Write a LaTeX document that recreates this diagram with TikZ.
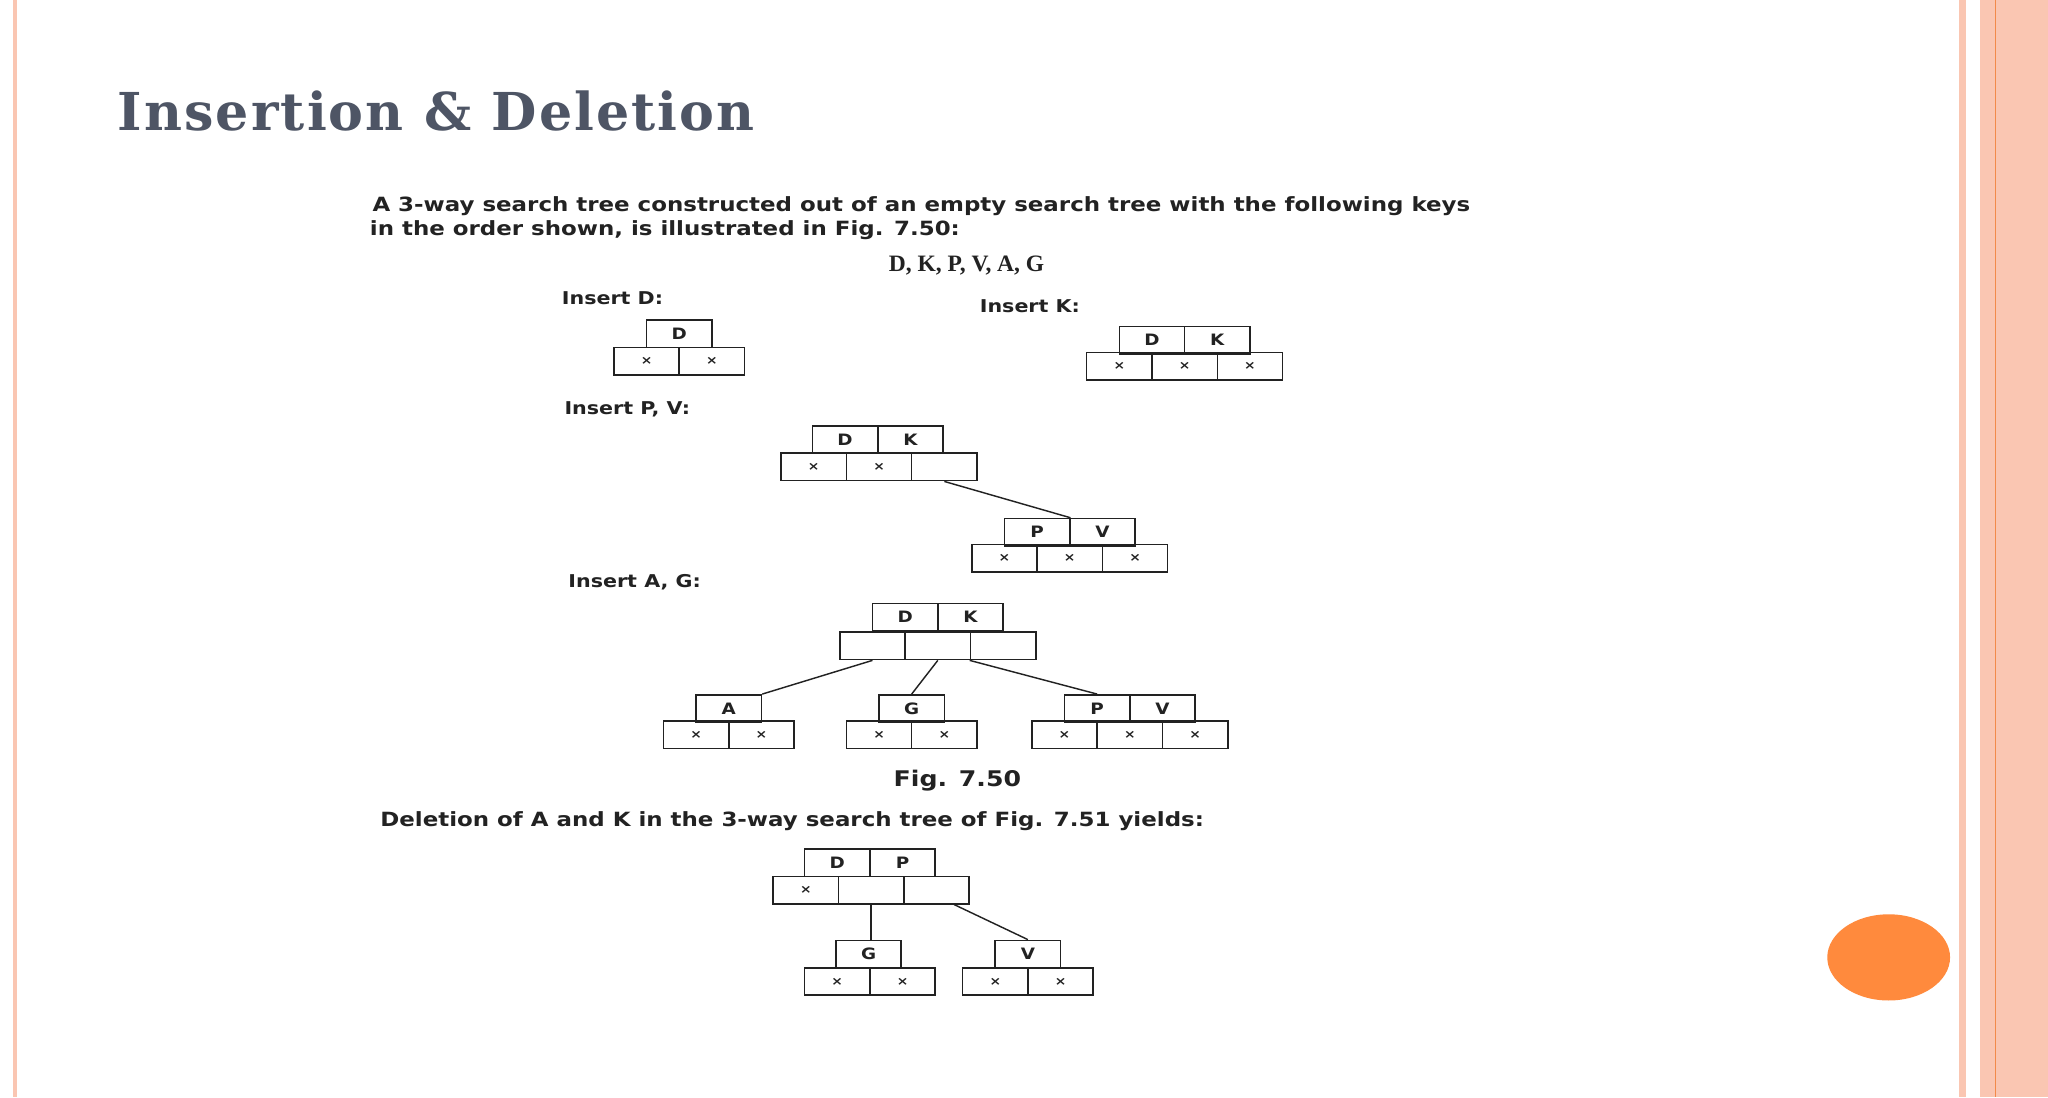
\documentclass[tikz,border=0pt]{standalone}
\usepackage{fontspec}
\usetikzlibrary{shapes.geometric}
\setmainfont{DejaVu Sans}
\newfontfamily\widefont[FakeStretch=1.17]{DejaVu Sans}
\newfontfamily\titlefont[LetterSpace=4]{DejaVu Serif}
\newfontfamily\scanserif{Liberation Serif}
\definecolor{peach}{HTML}{FAC6B2}
\definecolor{orangeline}{HTML}{F28A4A}
\definecolor{dot}{HTML}{FF8A3D}
\definecolor{titlecol}{HTML}{4E5565}
\definecolor{ink}{HTML}{222222}
\tikzset{
  cell/.style={draw=ink,line width=1.2pt,minimum width=50pt,minimum height=21pt,inner sep=0pt,font=\widefont\fontsize{12}{12}\selectfont\bfseries,text=ink},
  scan/.style={anchor=base west,inner sep=0pt,font=\widefont\fontsize{15}{18}\selectfont\bfseries,text=ink},
  lbl/.style={anchor=base west,inner sep=0pt,font=\widefont\fontsize{13.5}{14}\selectfont\bfseries,text=ink},
  link/.style={draw=ink,line width=1.1pt}
}
\newcommand\crow[4]{\foreach \t [count=\i] in {#4} {\node[cell] (#1\i) at ({#2+50*(\i-1)+25},{#3+10.5}) {\t};}}
\newcommand\xx{{\fontsize{9}{9}\selectfont ×}}
\begin{document}
\begin{tikzpicture}[x=1pt,y=-1pt]
\useasboundingbox (0,0) rectangle (1568,840);
\fill[white] (0,0) rectangle (1568,840);
% side decorations
\fill[peach] (10,0) rectangle (13,840);
\fill[peach] (1500,0) rectangle (1505,840);
\fill[peach] (1516,0) rectangle (1568,840);
\draw[orangeline,line width=1pt] (1528,0) -- (1528,840);
\node[fill=dot,ellipse,minimum width=94pt,minimum height=66pt,inner sep=0pt] (dotn) at (1446,733) {};
% title
\node[anchor=base west,inner sep=0pt,text=titlecol,font=\titlefont\fontsize{40}{40}\selectfont\bfseries] (title) at (90,100) {Insertion \& Deletion};
% texts
\node[scan] (t1) at (285,162) {A 3-way search tree constructed out of an empty search tree with the following keys};
\node[scan] (t2) at (283,180) {in the order shown, is illustrated in Fig. 7.50:};
\node[anchor=base,inner sep=0pt,font=\scanserif\fontsize{18}{18}\selectfont\bfseries,text=ink] (keys) at (740,208) {D, K, P, V, A, G};
\node[lbl] (l1) at (430,233) {Insert D:};
\node[lbl] (l2) at (750,239) {Insert K:};
\node[lbl] (l3) at (432,317) {Insert P, V:};
\node[lbl] (l4) at (435,450) {Insert A, G:};
\node[anchor=base,inner sep=0pt,font=\widefont\fontsize{16.5}{16}\selectfont\bfseries,text=ink] (fig) at (733,602) {Fig. 7.50};
\node[scan] (t3) at (291,633) {Deletion of A and K in the 3-way search tree of Fig. 7.51 yields:};
% Insert D
\crow{d-k}{495}{245}{D}
\crow{d-p}{470}{266}{\xx,\xx}
% Insert K
\crow{k-k}{857}{250}{D,K}
\crow{k-p}{832}{270}{\xx,\xx,\xx}
% Insert P,V
\crow{pv-k}{622}{326}{D,K}
\crow{pv-p}{598}{347}{\xx,\xx,{}}
\crow{pvc-k}{769}{397}{P,V}
\crow{pvc-p}{744}{417}{\xx,\xx,\xx}
\draw[link] (pv-p3.south) -- (pvc-k1.north east);
% Insert A,G
\crow{ag-k}{668}{462}{D,K}
\crow{ag-p}{643}{484}{{},{},{}}
\crow{a-k}{533}{532}{A}
\crow{a-p}{508}{552}{\xx,\xx}
\crow{g-k}{673}{532}{G}
\crow{g-p}{648}{552}{\xx,\xx}
\crow{v-k}{815}{532}{P,V}
\crow{v-p}{790}{552}{\xx,\xx,\xx}
\draw[link] (ag-p1.south) -- (a-k1.north east);
\draw[link] (ag-p2.south) -- (g-k1.north);
\draw[link] (ag-p3.south west) -- (v-k1.north);
% Deletion
\crow{del-k}{616}{650}{D,P}
\crow{del-p}{592}{671}{\xx,{},{}}
\crow{dg-k}{640}{720}{G}
\crow{dg-p}{616}{741}{\xx,\xx}
\crow{dv-k}{762}{720}{V}
\crow{dv-p}{737}{741}{\xx,\xx}
\draw[link] (del-p2.south) -- (del-p2.south |- dg-k1.north);
\draw[link] ([xshift=-12pt]del-p3.south east) -- (dv-k1.north);
\end{tikzpicture}
\end{document}
